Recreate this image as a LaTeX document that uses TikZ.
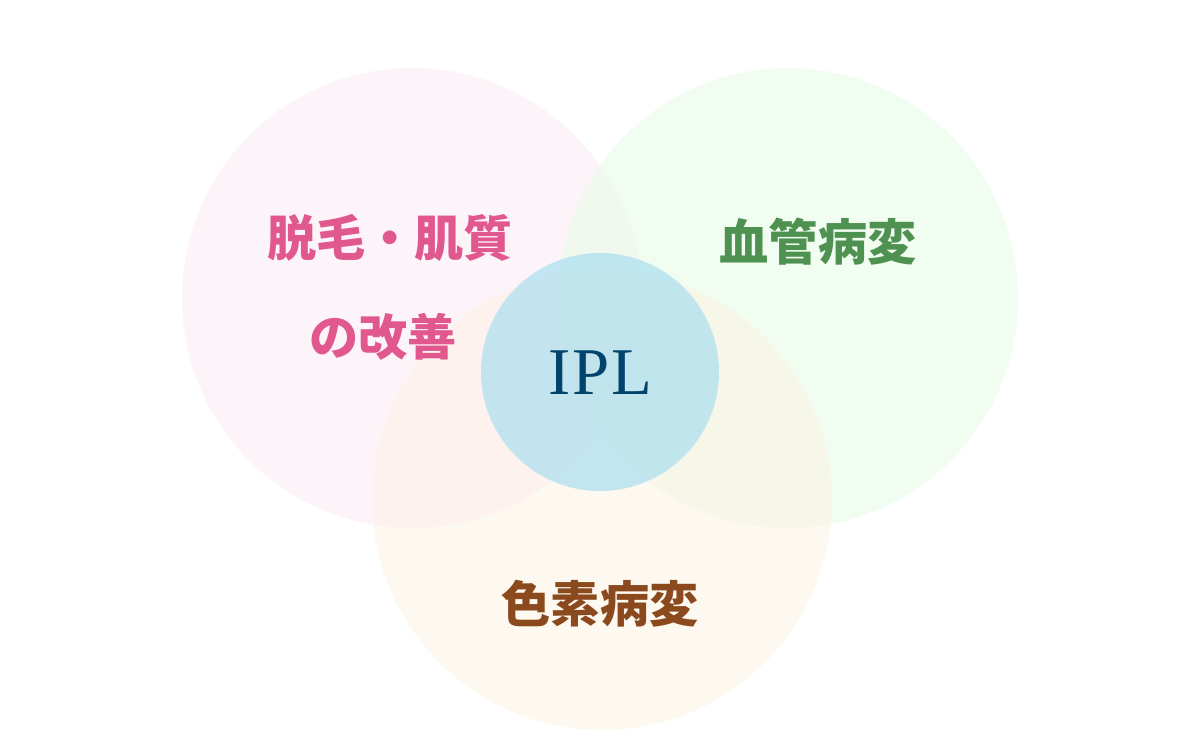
\documentclass[tikz,border=0pt]{standalone}
\usepackage{fontspec}
\setmainfont{Liberation Serif}
\newfontfamily\cjk{Noto Sans CJK JP}
\definecolor{pinkfill}{RGB}{253,234,247}
\definecolor{greenfill}{RGB}{230,252,228}
\definecolor{orangefill}{RGB}{253,242,226}
\definecolor{bluefill}{RGB}{165,220,240}
\definecolor{pinktext}{RGB}{224,88,142}
\definecolor{greentext}{RGB}{78,145,80}
\definecolor{browntext}{RGB}{139,74,30}
\definecolor{ipltext}{RGB}{0,68,110}
\tikzset{
  bigcircle/.style={draw=none, fill opacity=0.5},
  jplabel/.style={font=\cjk\fontsize{28}{32}\selectfont\bfseries, inner sep=0pt},
}
\begin{document}
\begin{tikzpicture}[x=0.02cm,y=-0.02cm]
\useasboundingbox (0,0) rectangle (1200,745);
\fill[white] (0,0) rectangle (1200,745);
\fill[pinkfill, bigcircle] (412,298) circle[radius=230];
\fill[greenfill, bigcircle] (788,298) circle[radius=230];
\fill[orangefill, bigcircle] (602,500) circle[radius=230];
\fill[bluefill, fill opacity=0.65] (600,372) circle[radius=119];
\node[jplabel, text=pinktext] (hair1) at (390,238) {脱毛・肌質};
\node[jplabel, text=pinktext] (hair2) at (383,337) {の改善};
\node[jplabel, text=greentext] (vasc) at (818,242) {血管病変};
\node[jplabel, text=browntext] (pigm) at (600,604) {色素病変};
\node[font=\fontsize{38}{42}\selectfont, text=ipltext, inner sep=0pt] (ipl) at (600,373) {I\kern1ptP\kern1ptL};
\end{tikzpicture}
\end{document}
